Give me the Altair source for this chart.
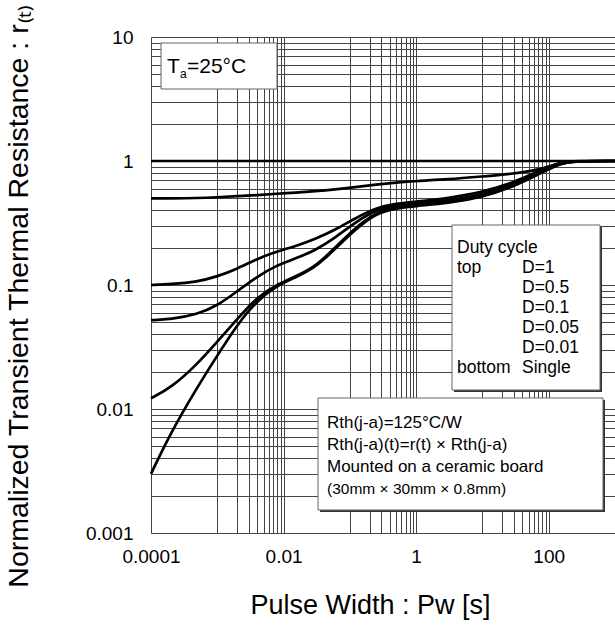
import altair as alt
import pandas as pd

FONT = "Liberation Sans, Arial, Helvetica, sans-serif"

# ---- data ----
pulse_width = [0.0001, 0.0002, 0.0005, 0.001, 0.002, 0.004, 0.008, 0.015, 0.03, 0.06,
               0.12, 0.25, 0.5, 1, 3, 10, 30, 70, 150, 250, 1000]
r_d1 = [1.0, 1.0, 1.0, 1.0, 1.0, 1.0, 1.0, 1.0, 1.0, 1.0,
        1.0, 1.0, 1.0, 1.0, 1.0, 1.0, 1.0, 1.0, 1.0, 1.0, 1.0]
r_d05 = [0.50, 0.50, 0.502, 0.51, 0.52, 0.53, 0.545, 0.555, 0.57, 0.59,
         0.615, 0.645, 0.67, 0.69, 0.71, 0.75, 0.79, 0.85, 0.96, 1.0, 1.0]
r_d01 = [0.100, 0.1015, 0.106, 0.117, 0.135, 0.163, 0.187, 0.205, 0.235, 0.278,
         0.345, 0.42, 0.455, 0.47, 0.50, 0.56, 0.67, 0.83, 0.98, 1.0, 1.0]
r_d005 = [0.052, 0.053, 0.058, 0.068, 0.089, 0.117, 0.145, 0.163, 0.19, 0.24,
          0.32, 0.405, 0.44, 0.455, 0.48, 0.535, 0.645, 0.80, 0.97, 1.0, 1.0]
r_d001 = [0.0122, 0.0148, 0.023, 0.035, 0.053, 0.080, 0.101, 0.117, 0.14, 0.20,
          0.29, 0.385, 0.43, 0.445, 0.465, 0.52, 0.635, 0.79, 0.965, 1.0, 1.0]
r_single = [0.003, 0.0065, 0.015, 0.027, 0.048, 0.075, 0.099, 0.115, 0.138, 0.195,
            0.28, 0.38, 0.415, 0.435, 0.455, 0.51, 0.625, 0.78, 0.96, 1.0, 1.0]
series_names = ["D=1", "D=0.5", "D=0.1", "D=0.05", "D=0.01", "Single"]
series_values = [r_d1, r_d05, r_d01, r_d005, r_d001, r_single]

x_grid = [0.0001, 0.001, 0.002, 0.003, 0.004, 0.005, 0.006, 0.007, 0.008, 0.009, 0.01,
          0.1, 0.2, 0.3, 0.4, 0.5, 0.6, 0.7, 0.8, 0.9, 1,
          10, 20, 30, 40, 50, 60, 70, 80, 90, 100, 1000]
y_grid = [0.001, 0.002, 0.003, 0.004, 0.005, 0.006, 0.007, 0.008, 0.009,
          0.01, 0.02, 0.03, 0.04, 0.05, 0.06, 0.07, 0.08, 0.09,
          0.1, 0.2, 0.3, 0.4, 0.5, 0.6, 0.7, 0.8, 0.9,
          1, 2, 3, 4, 5, 6, 7, 8, 9, 10]

duty_title = "Duty cycle"
duty_top = "top"
duty_bottom = "bottom"
duty_right = ["D=1", "D=0.5", "D=0.1", "D=0.05", "D=0.01", "Single"]
rth_lines = ["Rth(j-a)=125°C/W", "Rth(j-a)(t)=r(t) × Rth(j-a)", "Mounted on a ceramic board"]
rth_last = "(30mm × 30mm × 0.8mm)"

rows = []
for name, vals in zip(series_names, series_values):
    for x, y in zip(pulse_width, vals):
        rows.append({"series": name, "pw": x, "r": y})
df = pd.DataFrame(rows)

x_enc = alt.X(
    "pw:Q",
    scale=alt.Scale(type="log", domain=[0.0001, 1000], nice=False),
    axis=alt.Axis(
        values=x_grid, grid=True, ticks=False, domain=False,
        labelExpr="abs(log(datum.value)/LN10 - round(log(datum.value)/LN10)) < 0.001 && round(log(datum.value)/LN10) % 2 == 0 ? format(datum.value, '~g') : ''",
        labelOverlap=False, labelFlush=False, labelFontSize=19, labelPadding=14,
        title="Pulse Width : Pw [s]", titleFontSize=27, titleFontWeight="normal",
        titleX=219, titleY=80, titleBaseline="alphabetic", titleAnchor="middle",
    ),
)
y_enc = alt.Y(
    "r:Q",
    scale=alt.Scale(type="log", domain=[0.001, 10], nice=False),
    axis=alt.Axis(
        values=y_grid, grid=True, ticks=False, domain=False,
        labelExpr="abs(log(datum.value)/LN10 - round(log(datum.value)/LN10)) < 0.001 ? format(datum.value, '~g') : ''",
        labelOverlap=False, labelFlush=False, labelFontSize=19, labelPadding=18,
        title="Normalized Transient Thermal Resistance : r₍ₜ₎",
        titleFontSize=28.5, titleFontWeight="normal",
        titleX=-124, titleY=259, titleAngle=270, titleBaseline="alphabetic", titleAlign="center",
    ),
)

lines = alt.Chart(df).mark_line(color="black", strokeWidth=2.7, interpolate="basis").encode(
    x=x_enc, y=y_enc, detail="series:N"
)

one = pd.DataFrame({"k": [0]})


def box(x1, x2, y1, y2, shadow=True):
    layers = []
    if shadow:
        layers.append(alt.Chart(one).mark_rect(fill="#333333").encode(
            x=alt.value(x1 + 2), x2=alt.value(x2 + 2), y=alt.value(y1 + 2), y2=alt.value(y2 + 2)))
    layers.append(alt.Chart(one).mark_rect(fill="white", stroke="#666666", strokeWidth=1).encode(
        x=alt.value(x1), x2=alt.value(x2), y=alt.value(y1), y2=alt.value(y2)))
    return layers


def txt(lines_, x, y, size, lh=20):
    return alt.Chart(one).mark_text(
        text=lines_, align="left", baseline="alphabetic", font=FONT, fontSize=size,
        lineHeight=lh, color="black").encode(x=alt.value(x), y=alt.value(y))


annots = []
annots += box(10, 126, 6, 52, shadow=False)
annots.append(txt("T", 16, 36, 21))
annots.append(txt("a", 29, 41, 12))
annots.append(txt("=25°C", 36, 36, 21))
annots += box(301, 449, 188, 353)
annots.append(txt(duty_title, 306, 216, 17.5))
annots.append(txt(duty_top, 306, 236, 17.5))
annots.append(txt(duty_bottom, 306, 336, 17.5))
annots.append(txt(duty_right, 371, 236, 17.5))
annots += box(167, 452, 361, 473)
annots.append(txt(rth_lines, 176, 391, 17, 22))
annots.append(txt(rth_last, 176, 457, 15.5))

chart = alt.layer(lines, *annots).properties(
    width=464, height=496, autosize="none",
    padding={"left": 151, "top": 37, "right": 0, "bottom": 98},
    background="white",
).configure_view(stroke=None).configure_axis(
    gridColor="#444444", gridWidth=1, gridOpacity=1,
    labelFont=FONT, titleFont=FONT, labelColor="black", titleColor="black",
)

chart.save("out.html", embed_options={"renderer": "svg", "actions": False})
